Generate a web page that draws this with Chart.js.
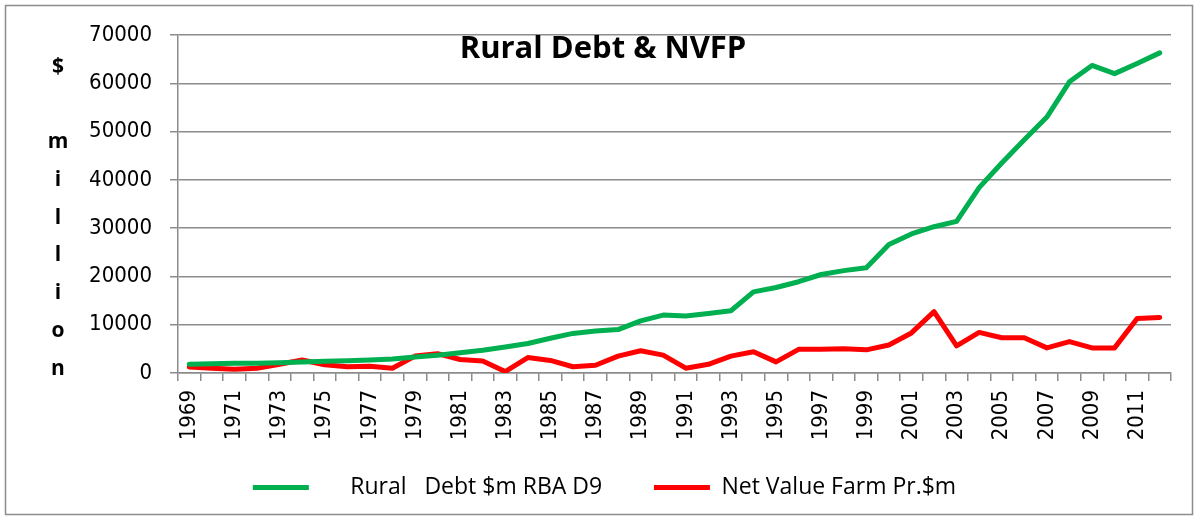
<!DOCTYPE html>
<html>
<head>
<meta charset="utf-8">
<script src="https://cdn.jsdelivr.net/npm/chart.js@4.4.1/dist/chart.umd.min.js"></script>
<style>
  html, body { margin: 0; padding: 0; background: #fff; }
  #wrap { width: 1198px; height: 520px; position: relative; }
</style>
</head>
<body>
<div id="wrap"><canvas id="grafico" width="1198" height="520"></canvas></div>
<script>
// Valores ($ milhões)
const anos = [1969, 1970, 1971, 1972, 1973, 1974, 1975, 1976, 1977, 1978,
              1979, 1980, 1981, 1982, 1983, 1984, 1985, 1986, 1987, 1988,
              1989, 1990, 1991, 1992, 1993, 1994, 1995, 1996, 1997, 1998,
              1999, 2000, 2001, 2002, 2003, 2004, 2005, 2006, 2007, 2008,
              2009, 2010, 2011, 2012];

const dividaRural = [1800, 1900, 2000, 2000, 2100, 2300, 2450, 2550, 2700, 2900,
                     3300, 3700, 4200, 4700, 5400, 6100, 7200, 8200, 8700, 9000,
                     10800, 12000, 11800, 12300, 12900, 16800, 17700, 18900, 20400, 21200,
                     21800, 26600, 28800, 30300, 31400, 38400, 43500, 48300, 53000, 60300,
                     63700, 62000, 64100, 66300];

const nvfp = [1250, 1000, 800, 1000, 1800, 2700, 1700, 1300, 1400, 1000,
              3500, 4000, 2800, 2500, 300, 3200, 2600, 1300, 1600, 3500,
              4600, 3700, 1000, 1800, 3500, 4400, 2300, 4900, 4900, 5000,
              4800, 5800, 8300, 12700, 5600, 8400, 7300, 7300, 5200, 6500,
              5200, 5200, 11300, 11500];

const yTicks = [0, 10000, 20000, 30000, 40000, 50000, 60000, 70000];
const titulo = 'Rural Debt & NVFP';
const letrasY = ['$', '', 'm', 'i', 'l', 'l', 'i', 'o', 'n'];

const cinza = '#8c8c8c';
const fonteNum = 'DejaVu Sans Condensed';

// Moldura, título dentro da área e rótulo vertical letra a letra
const extras = {
    id: 'extras',
    beforeDraw(chart) {
        const ctx = chart.ctx;
        ctx.save();
        ctx.strokeStyle = cinza;
        ctx.lineWidth = 1.5;
        ctx.strokeRect(5.5, 5.5, 1187, 509);
        ctx.restore();
    },
    afterDraw(chart) {
        const ctx = chart.ctx;
        ctx.save();
        ctx.fillStyle = '#000';
        ctx.textAlign = 'center';
        ctx.textBaseline = 'middle';
        ctx.font = 'bold 31px "Open Sans"';
        ctx.fillText(titulo, 603, 49);
        ctx.font = 'bold 21px "Open Sans"';
        letrasY.forEach((l, i) => {
            if (l) ctx.fillText(l, 58, 67 + i * 37.7);
        });
        ctx.restore();
    }
};

function criarGrafico() {
    const ctx = document.getElementById('grafico');

    new Chart(ctx, {
        type: 'line',
        data: {
            labels: anos,
            datasets: [
                {
                    label: '     Rural   Debt $m RBA D9       ',
                    data: dividaRural,
                    borderColor: '#00b050',
                    backgroundColor: '#00b050',
                    borderWidth: 5,
                    pointRadius: 0,
                    tension: 0,
                    borderCapStyle: 'round',
                    borderJoinStyle: 'round'
                },
                {
                    label: 'Net Value Farm Pr.$m',
                    data: nvfp,
                    borderColor: '#ff0000',
                    backgroundColor: '#ff0000',
                    borderWidth: 5,
                    pointRadius: 0,
                    tension: 0,
                    borderCapStyle: 'round',
                    borderJoinStyle: 'round'
                }
            ]
        },
        options: {
            responsive: false,
            animation: false,
            devicePixelRatio: 1,
            layout: { padding: { left: 38, right: 27, top: 35, bottom: 11 } },
            plugins: {
                title: { display: false },
                tooltip: { enabled: false },
                legend: {
                    position: 'bottom',
                    labels: {
                        usePointStyle: true,
                        pointStyle: 'line',
                        pointStyleWidth: 56,
                        color: '#000',
                        font: { family: 'Open Sans', size: 23 },
                        padding: 10
                    }
                }
            },
            scales: {
                x: {
                    offset: true,
                    grid: {
                        offset: true,
                        drawOnChartArea: false,
                        color: cinza,
                        lineWidth: 1.5,
                        tickLength: 8
                    },
                    border: { color: cinza, width: 1.5 },
                    ticks: {
                        autoSkip: false,
                        minRotation: 90,
                        maxRotation: 90,
                        padding: 9,
                        color: '#000',
                        font: { family: fonteNum, size: 22 },
                        callback: (v, i) => (i % 2 === 0 ? String(anos[i]) : '')
                    },
                    afterFit: s => { s.height = 93; }
                },
                y: {
                    min: 0,
                    max: 70000,
                    afterBuildTicks: s => { s.ticks = yTicks.map(v => ({ value: v })); },
                    grid: { color: cinza, lineWidth: 1.5, tickLength: 8 },
                    border: { color: cinza, width: 1.5 },
                    ticks: {
                        padding: 18,
                        color: '#000',
                        font: { family: fonteNum, size: 22 },
                        callback: v => String(v)
                    },
                    afterFit: s => { s.width = 140; }
                }
            }
        },
        plugins: [extras]
    });
}

window.onload = () => {
    criarGrafico();
};
</script>
</body>
</html>
